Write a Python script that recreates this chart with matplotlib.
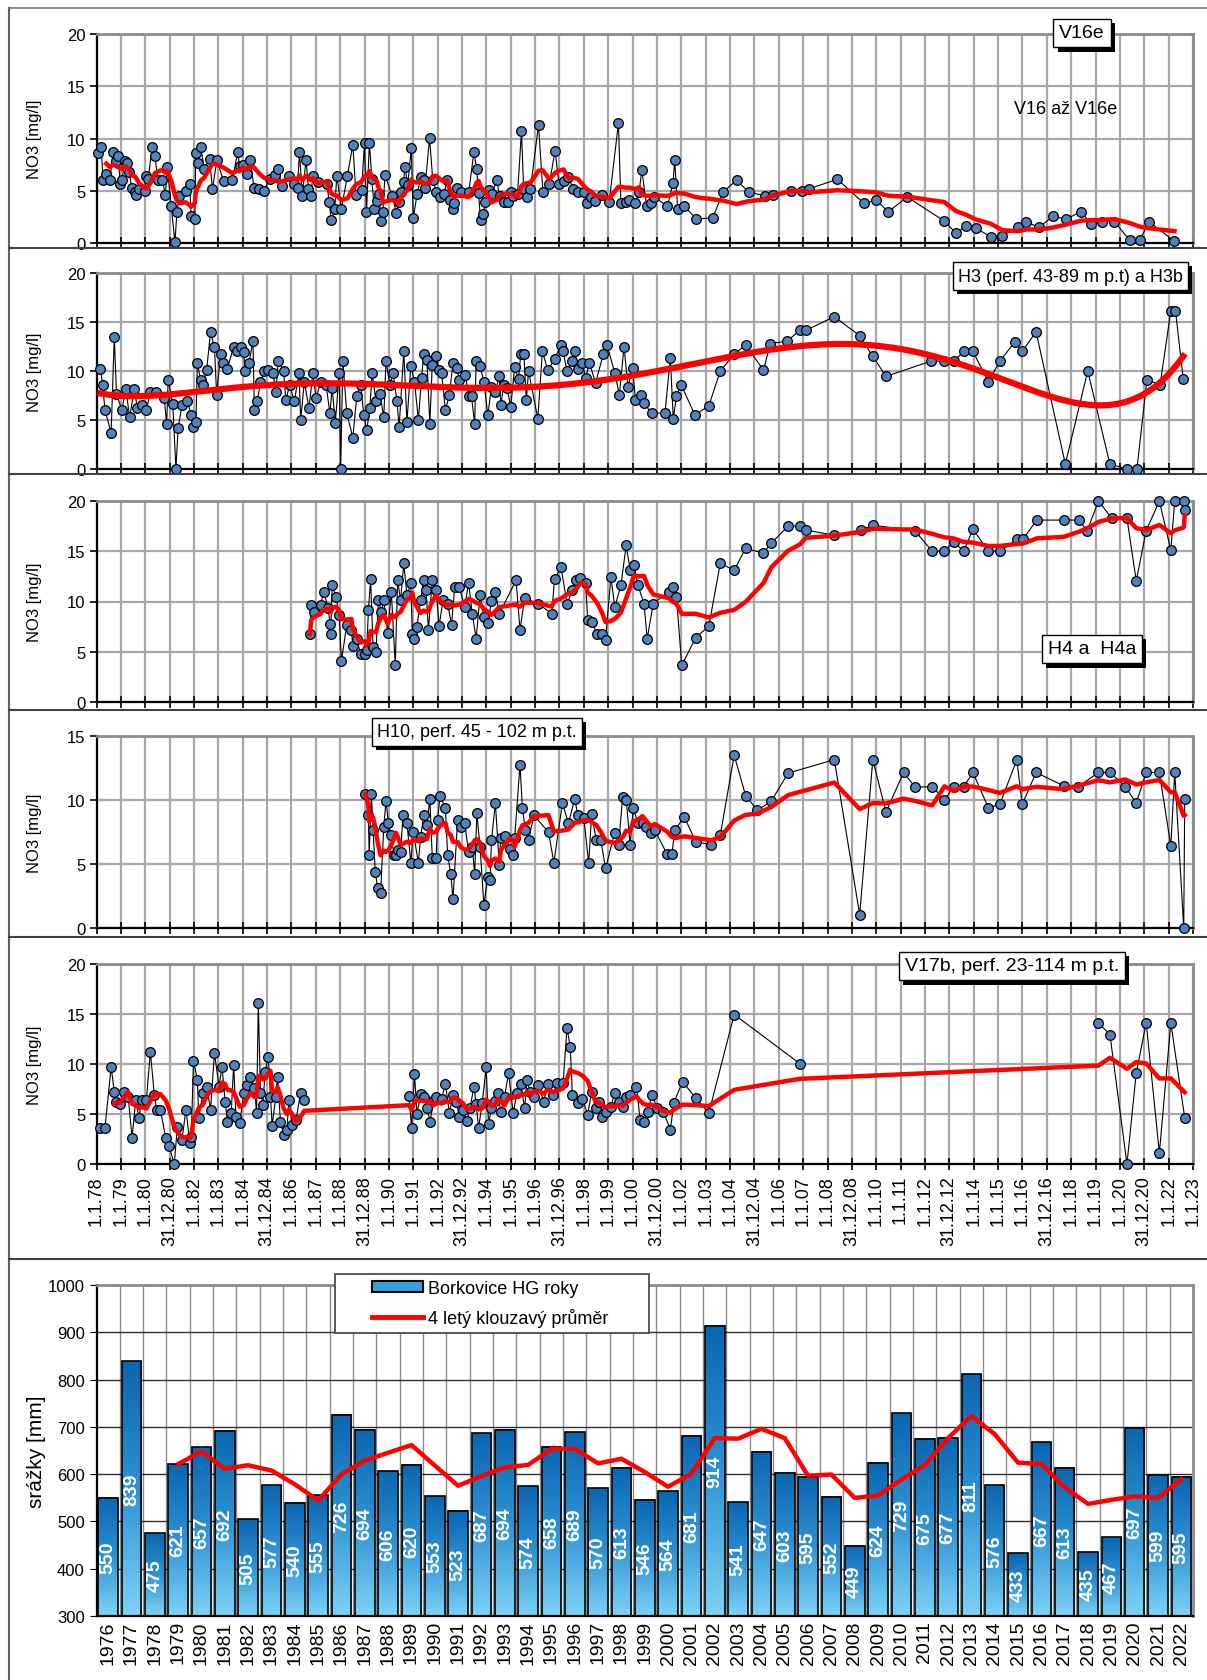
import numpy as np
import pandas as pd
import matplotlib
matplotlib.use('Agg')
import matplotlib.pyplot as plt
import matplotlib.patheffects as pe
from matplotlib.lines import Line2D
from matplotlib.patches import Patch, Rectangle
from matplotlib.colors import LinearSegmentedColormap

plt.rcParams['font.family'] = ['Liberation Sans', 'DejaVu Sans']

# x axis of the NO3 panels
tick_years = np.arange(1978, 2024)
tick_labels = ['1.1.78', '1.1.79', '1.1.80', '31.12.80', '1.1.82', '1.1.83', '1.1.84', '31.12.84',
               '1.1.86', '1.1.87', '1.1.88', '31.12.88', '1.1.90', '1.1.91', '1.1.92', '31.12.92',
               '1.1.94', '1.1.95', '1.1.96', '31.12.96', '1.1.98', '1.1.99', '1.1.00', '31.12.00',
               '1.1.02', '1.1.03', '1.1.04', '31.12.04', '1.1.06', '1.1.07', '1.1.08', '31.12.08',
               '1.1.10', '1.1.11', '1.1.12', '31.12.12', '1.1.14', '1.1.15', '1.1.16', '31.12.16',
               '1.1.18', '1.1.19', '1.1.20', '31.12.20', '1.1.22', '1.1.23']

# (date as decimal year, NO3 mg/l)
v16e = [(1978.08, 8.6), (1978.19, 9.15), (1978.27, 6.0), (1978.40, 6.6), (1978.55, 6.0), (1978.68, 8.7),
        (1978.79, 7.8), (1978.90, 8.3), (1978.97, 5.6), (1979.05, 6.0), (1979.15, 7.8), (1979.27, 7.7),
        (1979.34, 6.75), (1979.45, 5.3), (1979.56, 4.85), (1979.64, 4.6), (1979.75, 5.2), (1979.98, 5.0),
        (1980.03, 6.4), (1980.12, 6.1), (1980.28, 9.2), (1980.40, 8.3), (1980.52, 6.0), (1980.70, 6.0),
        (1980.83, 4.6), (1980.90, 7.3), (1981.07, 3.5), (1981.22, 0.05), (1981.30, 3.0), (1981.40, 4.5),
        (1981.66, 5.0), (1981.83, 5.6), (1981.88, 2.6), (1982.04, 2.3), (1982.07, 8.6), (1982.15, 7.65),
        (1982.28, 9.15), (1982.42, 7.1), (1982.64, 8.0), (1982.76, 5.2), (1982.94, 7.9), (1983.22, 5.9),
        (1983.58, 6.0), (1983.79, 8.7), (1983.87, 7.4), (1984.00, 7.5), (1984.17, 6.6), (1984.32, 7.9),
        (1984.46, 5.3), (1984.68, 5.2), (1984.87, 5.0), (1985.10, 6.1), (1985.31, 6.5), (1985.45, 7.1),
        (1985.60, 5.5), (1985.92, 6.45), (1986.10, 5.6), (1986.25, 5.3), (1986.33, 8.75), (1986.44, 4.5),
        (1986.60, 7.9), (1986.70, 5.2), (1986.79, 4.45), (1986.88, 6.4), (1987.07, 5.8), (1987.47, 5.6),
        (1987.54, 3.95), (1987.64, 2.2), (1987.78, 3.3), (1987.86, 6.45), (1988.05, 3.3), (1988.30, 6.45),
        (1988.52, 9.4), (1988.65, 4.6), (1988.88, 5.1), (1989.00, 9.6), (1989.08, 3.0), (1989.20, 9.6),
        (1989.30, 6.1), (1989.40, 3.3), (1989.50, 4.05), (1989.60, 4.7), (1989.67, 2.15), (1989.75, 3.0),
        (1989.84, 6.5), (1990.14, 4.45), (1990.31, 2.85), (1990.40, 3.9), (1990.48, 4.9), (1990.60, 5.8),
        (1990.66, 7.3), (1990.77, 5.55), (1990.92, 9.05), (1991.00, 2.4), (1991.16, 4.7), (1991.32, 6.35),
        (1991.43, 6.0), (1991.48, 5.3), (1991.67, 10.05), (1991.80, 6.0), (1991.95, 4.85), (1992.10, 4.4),
        (1992.26, 4.7), (1992.39, 6.0), (1992.51, 4.1), (1992.62, 3.3), (1992.67, 3.8), (1992.81, 5.3),
        (1992.97, 4.85), (1993.28, 4.9), (1993.49, 8.75), (1993.60, 7.1), (1993.68, 4.75), (1993.76, 2.2),
        (1993.87, 2.8), (1993.96, 3.9), (1994.12, 5.1), (1994.22, 4.7), (1994.43, 6.0), (1994.54, 4.5),
        (1994.74, 3.95), (1994.90, 3.95), (1995.01, 4.9), (1995.09, 4.45), (1995.28, 4.7), (1995.44, 10.7),
        (1995.53, 5.2), (1995.66, 4.4), (1995.81, 5.2), (1996.14, 11.3), (1996.32, 4.9), (1996.58, 5.6),
        (1996.82, 8.85), (1996.98, 5.65), (1997.17, 5.9), (1997.37, 6.3), (1997.56, 5.2), (1997.76, 4.85),
        (1998.00, 4.85), (1998.13, 3.8), (1998.31, 4.4), (1998.47, 4.05), (1998.75, 4.6), (1999.04, 3.9),
        (1999.42, 11.5), (1999.52, 3.8), (1999.71, 3.9), (1999.87, 4.1), (2000.11, 3.8), (2000.27, 4.9),
        (2000.38, 7.0), (2000.58, 3.5), (2000.74, 3.8), (2000.90, 4.4), (2001.43, 3.5), (2001.66, 5.75),
        (2001.73, 7.9), (2001.85, 3.3), (2002.13, 3.5), (2002.62, 2.3), (2003.29, 2.4), (2003.72, 4.9),
        (2004.27, 6.0), (2004.76, 4.9), (2005.43, 4.5), (2005.75, 4.6), (2006.51, 4.95), (2006.94, 4.95),
        (2007.26, 5.2), (2008.41, 6.1), (2009.49, 3.8), (2010.00, 4.1), (2010.49, 3.0), (2011.28, 4.4),
        (2012.79, 2.1), (2013.27, 0.95), (2013.70, 1.6), (2014.10, 1.4), (2014.70, 0.6), (2015.18, 0.7),
        (2015.81, 1.5), (2016.16, 2.0), (2016.69, 1.5), (2017.24, 2.55), (2017.79, 2.3), (2018.42, 3.0),
        (2018.82, 1.8), (2019.26, 2.05), (2019.77, 2.05), (2020.41, 0.25), (2020.81, 0.25), (2021.20, 2.05),
        (2022.24, 0.15)]

h3 = [(1978.16, 10.25), (1978.25, 8.6), (1978.35, 6.0), (1978.6, 3.7), (1978.73, 13.5), (1978.82, 7.7),
      (1979.04, 6.0), (1979.2, 8.2), (1979.36, 5.3), (1979.55, 8.15), (1979.68, 6.2), (1979.86, 6.5),
      (1980.05, 6.0), (1980.21, 7.9), (1980.43, 7.9), (1980.78, 7.2), (1980.88, 4.6), (1980.94, 9.1),
      (1981.13, 6.6), (1981.26, 0.0), (1981.35, 4.2), (1981.51, 6.5), (1981.73, 6.9), (1981.89, 5.5),
      (1981.98, 4.3), (1982.08, 4.8), (1982.14, 10.8), (1982.27, 9.1), (1982.36, 8.6), (1982.52, 10.1),
      (1982.68, 14.0), (1982.84, 12.4), (1982.93, 7.6), (1983.09, 11.7), (1983.21, 10.8), (1983.37, 10.2),
      (1983.63, 12.5), (1983.78, 12.0), (1983.94, 12.5), (1984.04, 11.9), (1984.1, 10.0), (1984.26, 10.8),
      (1984.42, 13.1), (1984.48, 6.0), (1984.6, 6.9), (1984.73, 8.9), (1984.89, 10.0), (1985.05, 10.1),
      (1985.24, 9.8), (1985.36, 7.9), (1985.46, 11.0), (1985.68, 10.0), (1985.77, 7.0), (1985.93, 8.6),
      (1986.12, 6.9), (1986.31, 9.8), (1986.38, 5.0), (1986.53, 8.9), (1986.72, 6.2), (1986.88, 9.8),
      (1987.01, 7.2), (1987.2, 8.9), (1987.42, 8.6), (1987.58, 5.7), (1987.67, 8.25), (1987.8, 4.7),
      (1987.96, 9.8), (1988.02, 0.0), (1988.11, 11.0), (1988.27, 5.7), (1988.52, 3.2), (1988.68, 7.4),
      (1988.84, 8.6), (1988.97, 5.5), (1989.09, 3.95), (1989.22, 6.2), (1989.31, 9.8), (1989.47, 6.9),
      (1989.63, 7.7), (1989.79, 5.3), (1989.88, 11.0), (1990.04, 8.6), (1990.17, 9.8), (1990.33, 6.9),
      (1990.42, 4.3), (1990.61, 12.0), (1990.74, 4.8), (1990.9, 10.5), (1991.05, 8.9), (1991.21, 5.0),
      (1991.34, 9.3), (1991.43, 11.7), (1991.56, 11.1), (1991.68, 4.6), (1991.78, 10.65), (1991.94, 11.5),
      (1992.06, 10.1), (1992.16, 9.8), (1992.32, 6.0), (1992.48, 7.55), (1992.63, 10.8), (1992.79, 10.3),
      (1992.89, 9.1), (1993.14, 9.6), (1993.27, 7.4), (1993.39, 7.4), (1993.52, 4.6), (1993.58, 11.0),
      (1993.74, 10.5), (1993.9, 8.9), (1994.06, 5.5), (1994.21, 8.4), (1994.37, 7.9), (1994.53, 9.45),
      (1994.59, 6.5), (1994.72, 8.6), (1994.85, 8.25), (1995.0, 6.35), (1995.16, 10.4), (1995.32, 9.2),
      (1995.41, 11.7), (1995.54, 11.75), (1995.64, 7.05), (1995.73, 10.0), (1996.11, 5.15), (1996.3, 12.0),
      (1996.52, 10.1), (1996.8, 11.2), (1997.06, 12.7), (1997.15, 12.0), (1997.31, 10.0), (1997.53, 11.0),
      (1997.63, 12.0), (1997.75, 10.25), (1997.94, 10.8), (1998.07, 9.3), (1998.23, 10.8), (1998.48, 8.8),
      (1998.8, 11.7), (1998.95, 12.7), (1999.27, 9.8), (1999.46, 7.55), (1999.65, 12.5), (1999.81, 8.4),
      (2000.0, 10.3), (2000.12, 7.05), (2000.35, 7.55), (2000.47, 6.7), (2000.79, 5.7), (2001.33, 5.7),
      (2001.55, 11.35), (2001.67, 5.15), (2001.8, 7.4), (2001.99, 8.6), (2002.56, 5.5), (2003.13, 6.45),
      (2003.6, 10.0), (2004.17, 11.7), (2004.64, 12.65), (2005.37, 10.1), (2005.66, 12.8), (2006.35, 13.05),
      (2006.86, 14.15), (2007.11, 14.15), (2008.28, 15.55), (2009.32, 13.6), (2009.86, 11.5), (2010.4, 9.45),
      (2012.23, 11.0), (2012.8, 11.0), (2013.18, 11.0), (2013.59, 12.0), (2013.97, 12.0), (2014.6, 8.9),
      (2015.07, 11.0), (2015.7, 13.0), (2015.99, 12.0), (2016.56, 14.0), (2017.76, 0.5), (2018.68, 10.0),
      (2019.59, 0.5), (2020.29, 0.0), (2020.7, 0.0), (2021.11, 9.1), (2021.65, 8.6), (2022.09, 16.15),
      (2022.28, 16.15), (2022.6, 9.2)]

h4 = [(1986.75, 6.75), (1986.82, 9.7), (1986.94, 8.95), (1987.2, 9.7), (1987.32, 10.95), (1987.51, 9.4),
      (1987.58, 7.8), (1987.61, 6.75), (1987.67, 11.6), (1987.83, 10.45), (1987.96, 8.65), (1988.05, 4.1),
      (1988.27, 7.65), (1988.46, 7.15), (1988.52, 5.6), (1988.68, 6.25), (1988.84, 4.8), (1989.0, 4.8),
      (1989.09, 5.2), (1989.16, 9.15), (1989.25, 12.2), (1989.35, 5.5), (1989.47, 5.0), (1989.57, 10.1),
      (1989.69, 9.0), (1989.79, 10.1), (1989.95, 6.9), (1990.1, 10.95), (1990.26, 3.65), (1990.36, 12.1),
      (1990.48, 10.1), (1990.61, 13.8), (1990.74, 10.6), (1990.9, 11.8), (1990.96, 6.8), (1991.05, 6.3),
      (1991.15, 7.5), (1991.3, 10.1), (1991.43, 12.1), (1991.53, 11.1), (1991.62, 7.15), (1991.78, 12.1),
      (1991.94, 11.1), (1992.06, 7.55), (1992.22, 10.1), (1992.41, 9.8), (1992.57, 7.65), (1992.7, 11.45),
      (1992.89, 11.45), (1993.11, 9.45), (1993.27, 11.85), (1993.42, 8.8), (1993.58, 6.3), (1993.74, 10.6),
      (1993.9, 8.45), (1994.06, 7.85), (1994.21, 10.05), (1994.37, 10.95), (1994.53, 8.8), (1995.22, 12.1),
      (1995.38, 7.15), (1995.57, 10.3), (1996.11, 9.8), (1996.68, 8.8), (1996.8, 12.2), (1997.06, 13.45),
      (1997.31, 9.8), (1997.53, 11.1), (1997.69, 12.1), (1997.85, 12.3), (1998.07, 11.8), (1998.16, 8.2),
      (1998.32, 8.0), (1998.54, 6.8), (1998.73, 6.8), (1998.89, 6.15), (1999.11, 12.45), (1999.27, 9.45),
      (1999.52, 11.6), (1999.74, 15.6), (1999.9, 13.1), (2000.06, 13.6), (2000.22, 11.6), (2000.47, 9.8),
      (2000.6, 6.3), (2000.85, 9.8), (2001.48, 10.95), (2001.64, 11.45), (2001.8, 10.45), (2002.02, 3.65),
      (2002.59, 6.4), (2003.13, 7.55), (2003.6, 13.8), (2004.17, 13.1), (2004.64, 15.3), (2005.37, 14.8),
      (2005.69, 15.8), (2006.38, 17.5), (2006.86, 17.5), (2007.11, 17.1), (2008.28, 16.6), (2009.38, 17.1),
      (2009.86, 17.6), (2011.6, 17.0), (2012.3, 15.0), (2012.8, 15.0), (2013.18, 15.95), (2013.59, 15.0),
      (2013.97, 17.2), (2014.6, 15.0), (2015.07, 15.0), (2015.77, 16.2), (2016.02, 16.2), (2016.59, 18.1),
      (2017.7, 18.1), (2018.33, 18.1), (2018.65, 17.0), (2019.12, 20.0), (2019.66, 18.3), (2020.29, 18.3),
      (2020.67, 12.05), (2021.08, 17.05), (2021.62, 20.0), (2022.09, 15.1), (2022.25, 20.0), (2022.62, 20.0),
      (2022.66, 19.1)]

h10 = [(1989.03, 10.45), (1989.16, 8.8), (1989.19, 5.7), (1989.28, 10.45), (1989.35, 7.65), (1989.44, 4.4),
       (1989.54, 3.1), (1989.66, 2.75), (1989.79, 7.9), (1989.88, 9.9), (1989.98, 8.2), (1990.1, 7.25),
       (1990.2, 5.7), (1990.29, 5.7), (1990.36, 6.1), (1990.48, 5.95), (1990.58, 8.8), (1990.74, 8.2),
       (1990.9, 5.1), (1991.0, 7.5), (1991.21, 5.1), (1991.3, 7.1), (1991.43, 8.8), (1991.56, 8.05),
       (1991.68, 10.1), (1991.78, 5.5), (1991.94, 5.5), (1992.0, 8.45), (1992.1, 10.35), (1992.32, 9.35),
       (1992.41, 5.7), (1992.54, 4.25), (1992.63, 2.25), (1992.82, 8.45), (1992.95, 7.9), (1993.11, 8.2),
       (1993.27, 5.95), (1993.42, 6.35), (1993.52, 4.25), (1993.61, 8.95), (1993.74, 6.35), (1993.9, 1.8),
       (1994.06, 4.0), (1994.15, 3.75), (1994.21, 6.85), (1994.37, 9.75), (1994.53, 4.95), (1994.59, 7.05),
       (1994.78, 7.15), (1994.97, 6.2), (1995.1, 5.7), (1995.16, 7.0), (1995.38, 12.75), (1995.48, 9.35),
       (1995.6, 7.65), (1995.73, 6.85), (1995.95, 8.8), (1996.55, 7.5), (1996.77, 5.1), (1997.12, 9.75),
       (1997.37, 8.2), (1997.63, 10.1), (1997.75, 8.8), (1998.0, 8.6), (1998.2, 5.05), (1998.32, 8.9),
       (1998.51, 6.85), (1998.7, 6.85), (1998.89, 4.65), (1999.27, 7.45), (1999.43, 6.5), (1999.59, 10.2),
       (1999.74, 10.0), (1999.9, 6.5), (2000.03, 9.35), (2000.22, 8.2), (2000.41, 8.2), (2000.57, 7.9),
       (2000.76, 7.45), (2000.91, 7.65), (2001.42, 5.75), (2001.61, 5.75), (2001.74, 7.65), (2002.12, 8.7),
       (2002.59, 6.75), (2003.22, 6.5), (2003.6, 7.25), (2004.17, 13.5), (2004.64, 10.35), (2005.12, 9.2),
       (2005.69, 9.9), (2006.38, 12.1), (2008.28, 13.15), (2009.32, 1.05), (2009.86, 13.15), (2010.4, 9.05),
       (2011.12, 12.15), (2011.6, 11.0), (2012.3, 11.05), (2012.8, 10.0), (2013.18, 11.05), (2013.59, 11.05),
       (2013.97, 12.15), (2014.6, 9.4), (2015.07, 9.65), (2015.77, 13.15), (2015.99, 9.65), (2016.56, 12.15),
       (2017.7, 11.1), (2018.3, 11.05), (2019.12, 12.15), (2019.59, 12.15), (2020.22, 11.05), (2020.67, 9.75),
       (2021.08, 12.15), (2021.62, 12.15), (2022.09, 6.4), (2022.25, 12.15), (2022.62, 0.0), (2022.66, 10.1)]

v17b = [(1978.16, 3.65), (1978.35, 3.65), (1978.6, 9.7), (1978.73, 7.25), (1978.82, 6.25), (1978.98, 6.0),
        (1979.14, 7.25), (1979.3, 6.75), (1979.46, 2.6), (1979.61, 6.45), (1979.74, 4.6), (1979.86, 6.45),
        (1980.05, 6.45), (1980.21, 11.25), (1980.37, 6.95), (1980.47, 5.45), (1980.62, 5.45), (1980.84, 2.6),
        (1980.97, 1.85), (1981.19, 0.0), (1981.32, 3.75), (1981.51, 2.45), (1981.67, 5.45), (1981.83, 2.15),
        (1981.89, 2.75), (1981.98, 10.35), (1982.14, 8.45), (1982.2, 4.6), (1982.36, 7.1), (1982.52, 7.75),
        (1982.68, 5.45), (1982.84, 11.1), (1983.03, 7.75), (1983.15, 9.75), (1983.28, 6.25), (1983.37, 4.25),
        (1983.53, 5.1), (1983.63, 9.95), (1983.72, 4.75), (1983.88, 4.1), (1984.04, 7.1), (1984.16, 7.95),
        (1984.32, 8.75), (1984.48, 7.6), (1984.57, 5.15), (1984.64, 16.15), (1984.73, 7.1), (1984.83, 5.95),
        (1984.92, 9.25), (1985.05, 10.75), (1985.14, 6.75), (1985.21, 3.85), (1985.36, 6.75), (1985.43, 8.75),
        (1985.55, 4.25), (1985.68, 2.95), (1985.81, 3.45), (1985.9, 6.45), (1986.03, 3.95), (1986.19, 4.45),
        (1986.38, 7.15), (1986.53, 6.45),
        (1990.83, 6.85), (1990.93, 3.6), (1991.05, 9.0), (1991.15, 5.05), (1991.31, 7.0), (1991.43, 6.75),
        (1991.56, 5.65), (1991.69, 4.25), (1991.84, 6.45), (1991.94, 6.75), (1992.16, 6.5), (1992.32, 8.05),
        (1992.48, 5.1), (1992.63, 6.95), (1992.76, 6.25), (1992.89, 4.75), (1993.04, 5.45), (1993.2, 4.35),
        (1993.33, 5.6), (1993.49, 7.75), (1993.58, 6.0), (1993.68, 3.6), (1993.83, 6.1), (1993.99, 9.7),
        (1994.09, 4.0), (1994.21, 5.6), (1994.37, 6.35), (1994.47, 7.15), (1994.59, 5.25), (1994.75, 6.75),
        (1994.91, 9.1), (1995.1, 5.1), (1995.26, 7.15), (1995.41, 8.05), (1995.57, 5.6), (1995.67, 8.45),
        (1995.79, 7.25), (1995.95, 6.75), (1996.11, 7.9), (1996.36, 6.25), (1996.52, 8.05), (1996.74, 6.95),
        (1996.9, 8.1), (1997.15, 8.15), (1997.31, 13.6), (1997.44, 11.75), (1997.53, 6.95), (1997.75, 6.1),
        (1997.94, 6.5), (1998.16, 4.95), (1998.32, 7.25), (1998.48, 5.6), (1998.64, 6.25), (1998.76, 4.75),
        (1998.89, 5.25), (1999.11, 5.75), (1999.27, 7.1), (1999.43, 6.25), (1999.59, 5.75), (1999.74, 6.75),
        (1999.9, 6.95), (2000.16, 7.75), (2000.31, 4.45), (2000.47, 4.25), (2000.63, 5.25), (2000.79, 6.95),
        (2001.01, 5.6), (2001.26, 5.25), (2001.55, 3.45), (2001.7, 6.15), (2002.05, 8.25), (2002.59, 6.6),
        (2003.13, 5.1), (2004.17, 14.95), (2006.86, 10.05), (2019.12, 14.1), (2019.59, 12.95), (2020.29, 0.0),
        (2020.67, 9.1), (2021.08, 14.1), (2021.62, 1.1), (2022.09, 14.1), (2022.66, 4.65)]

# annual precipitation, Borkovice HG
rain_years = list(range(1976, 2023))
rain = [550, 839, 475, 621, 657, 692, 505, 577, 540, 555, 726, 694, 606, 620, 553, 523, 687, 694, 574,
        658, 689, 570, 613, 546, 564, 681, 914, 541, 647, 603, 595, 552, 449, 624, 729, 675, 677, 811,
        576, 433, 667, 613, 435, 467, 697, 599, 595]

W, H = 1207, 1681
fig = plt.figure(figsize=(W / 100, H / 100), dpi=100)
fig.patch.set_facecolor('white')

MARKER = '#4F81BD'
RED = '#FF0000'


def axes_px(x0, y0, x1, y1):
    return fig.add_axes([x0 / W, 1 - y1 / H, (x1 - x0) / W, (y1 - y0) / H])


def style_no3(ax, ymax, labels):
    ax.set_xlim(1978, 2023)
    ax.set_ylim(0, ymax)
    ax.set_xticks(tick_years)
    ax.set_yticks(np.arange(0, ymax + 1, 5))
    ax.grid(True, color='#A8A8A8', lw=1.6)
    ax.set_axisbelow(True)
    for s in ['top', 'right']:
        ax.spines[s].set_color('#8C8C8C')
        ax.spines[s].set_linewidth(2)
    for s in ['left', 'bottom']:
        ax.spines[s].set_color('black')
        ax.spines[s].set_linewidth(1.6)
    ax.tick_params(axis='x', direction='inout', length=9, width=1.2)
    ax.tick_params(axis='y', direction='out', length=5, width=1.2, labelsize=12, pad=3)
    if labels:
        ax.set_xticklabels(tick_labels, rotation=90, fontsize=13)
    else:
        ax.set_xticklabels([])


def draw_points(ax, pts, max_gap=None):
    x = np.array([p[0] for p in pts])
    y = np.array([p[1] for p in pts])
    lx, ly = list(x), list(y)
    if max_gap:
        # the connecting line is broken over long pauses in sampling
        lx, ly = [x[0]], [y[0]]
        for i in range(1, len(x)):
            if x[i] - x[i - 1] > max_gap:
                lx.append(np.nan)
                ly.append(np.nan)
            lx.append(x[i])
            ly.append(y[i])
    ax.plot(lx, ly, color='black', lw=0.8, zorder=3)
    ax.plot(x, y, 'o', ms=7, mfc=MARKER, mec='black', mew=0.9, zorder=4, clip_on=False)
    return x, y


def moving(ax, x, y, window, minp):
    avg = pd.Series(y).rolling(window, min_periods=minp).mean()
    ax.plot(x, avg, color=RED, lw=3.2, zorder=5)


def tag(cx, cy, s, fs, ha='center'):
    t = fig.text(cx / W, 1 - cy / H, s, ha=ha, va='center', fontsize=fs, color='black', zorder=10,
                 bbox=dict(boxstyle='square,pad=0.3', fc='white', ec='black', lw=1))
    t.get_bbox_patch().set_path_effects(
        [pe.SimplePatchShadow(offset=(3, -3), shadow_rgbFace='black', alpha=1), pe.Normal()])


XL, XR = 96.5, 1193

# panel 1 V16e
ax1 = axes_px(XL, 35, XR, 244)
style_no3(ax1, 20, False)
x, y = draw_points(ax1, v16e)
moving(ax1, x, y, 6, 4)

# panel 2 H3
ax2 = axes_px(XL, 274, XR, 470)
style_no3(ax2, 20, False)
x, y = draw_points(ax2, h3)
t = (x - 2000) / 10
coef = np.polyfit(t, y, 6)
tt = np.linspace(t.min(), t.max(), 400)
ax2.plot(tt * 10 + 2000, np.polyval(coef, tt), color=RED, lw=4.5, zorder=5)

# panel 3 H4
ax3 = axes_px(XL, 502, XR, 703)
style_no3(ax3, 20, False)
x, y = draw_points(ax3, h4)
moving(ax3, x, y, 6, 1)

# panel 4 H10
ax4 = axes_px(XL, 737, XR, 929)
style_no3(ax4, 15, False)
x, y = draw_points(ax4, h10)
moving(ax4, x, y, 6, 1)

# panel 5 V17b
ax5 = axes_px(XL, 965, XR, 1165)
style_no3(ax5, 20, True)
x, y = draw_points(ax5, v17b, max_gap=3.5)
moving(ax5, x, y, 6, 4)

for yc in [139.5, 372, 602, 833, 1065]:
    fig.text(35 / W, 1 - yc / H, 'NO3 [mg/l]', rotation=90, ha='center', va='center', fontsize=12)

tag(1082, 34, 'V16e', 14)
fig.text(1066 / W, 1 - 109 / H, 'V16 až V16e', ha='center', va='center', fontsize=13)
tag(958, 277, 'H3 (perf. 43-89 m p.t) a H3b', 13, ha='left')
tag(1092, 650, 'H4 a  H4a', 14)
tag(477, 733, 'H10, perf. 45 - 102 m p.t.', 13)
tag(1012, 967, 'V17b, perf. 23-114 m p.t.', 14)

# precipitation bars
ax6 = axes_px(XL, 1286, XR, 1617)
idx = np.arange(len(rain))
bw = 0.84
ymin, ymax = 300, 1000
cmap = LinearSegmentedColormap.from_list('bar', ['#0B66B0', '#2E92D4', '#7ED2F6'])
grad = np.linspace(0, 1, 128).reshape(-1, 1)
for i, v in zip(idx, rain):
    ax6.imshow(grad, extent=(i - bw / 2, i + bw / 2, ymin, v), origin='upper', aspect='auto',
               cmap=cmap, zorder=2)
    ax6.text(i, (ymin + v) / 2, str(v), rotation=90, ha='center', va='center', color='white',
             fontweight='bold', fontsize=14, zorder=6)
ax6.bar(idx, rain, width=bw, facecolor='none', edgecolor='black', lw=1.2, zorder=3)
avg4 = pd.Series(rain).rolling(4).mean()
ax6.plot(idx, avg4, color=RED, lw=3.2, zorder=5)
ax6.set_xlim(-0.5, len(rain) - 0.5)
ax6.set_ylim(ymin, ymax)
ax6.set_yticks(np.arange(ymin, ymax + 1, 100))
ax6.set_xticks(idx)
ax6.set_xticklabels([str(yr) for yr in rain_years], rotation=90, fontsize=14)
ax6.set_xticks(idx[:-1] + 0.5, minor=True)
ax6.yaxis.grid(True, color='#303030', lw=1)
ax6.xaxis.grid(True, which='minor', color='#8A8A8A', lw=1)
ax6.set_axisbelow(True)
ax6.tick_params(axis='x', which='both', length=0, pad=3)
ax6.tick_params(axis='y', direction='out', length=5, labelsize=12)
for s in ['top', 'right']:
    ax6.spines[s].set_color('#8C8C8C')
    ax6.spines[s].set_linewidth(2)
for s in ['left', 'bottom']:
    ax6.spines[s].set_color('black')
    ax6.spines[s].set_linewidth(1.6)
fig.text(37 / W, 1 - 1452 / H, 'srážky [mm]', rotation=90, ha='center', va='center', fontsize=15)

# legend box drawn separately so the entries can sit inset like the original
fig.add_artist(Rectangle((335 / W, 1 - 1334 / H), 314 / W, 59 / H, transform=fig.transFigure,
                         fc='white', ec='#404040', lw=1.2, zorder=4))
handles = [Patch(facecolor='#3A9EDD', edgecolor='black', lw=1.5), Line2D([], [], color=RED, lw=3.5)]
leg = fig.legend(handles, ['Borkovice HG roky', '4 letý klouzavý průměr'], loc='upper left',
                 bbox_to_anchor=(372 / W, 1 - 1281 / H), fontsize=13, frameon=False,
                 borderpad=0, borderaxespad=0, handlelength=2.8, handleheight=0.55,
                 handletextpad=0.3, labelspacing=0.6)
leg.set_zorder(5)

# chart area borders
fig.add_artist(Line2D([8.6 / W, 1], [1 - 8.6 / H] * 2, color='#909090', lw=1.5))
fig.add_artist(Line2D([8.6 / W] * 2, [1 - 8.6 / H, 0], color='#606060', lw=1.5))
for yb in [249, 475, 711, 938, 1260]:
    fig.add_artist(Line2D([8.6 / W, 1], [1 - yb / H] * 2, color='#404040', lw=1.5))

fig.savefig('out.png', dpi=100, facecolor='white')
